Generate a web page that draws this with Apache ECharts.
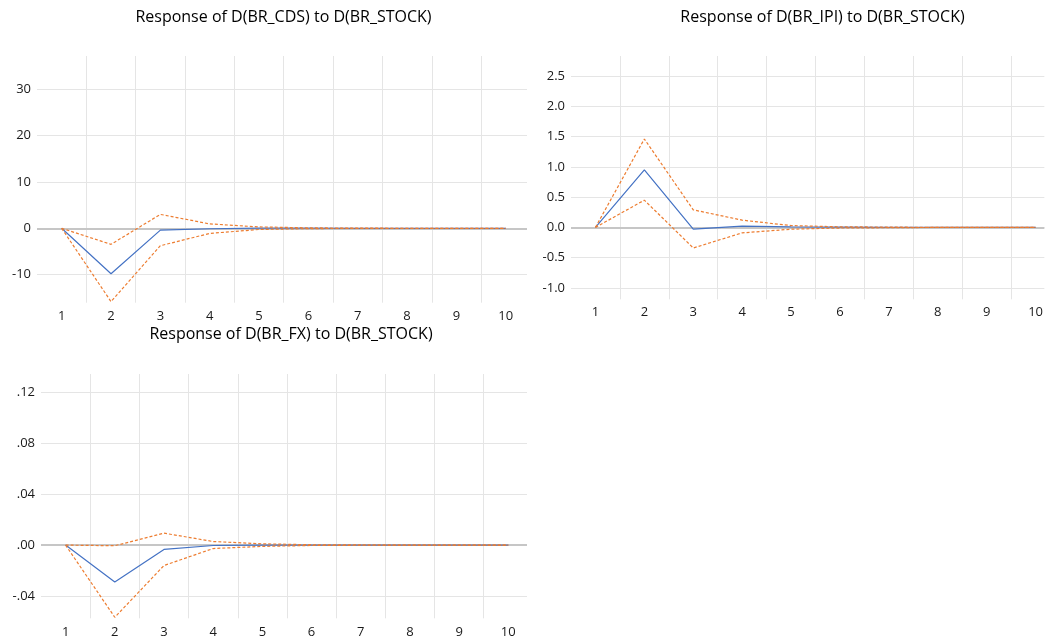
<!DOCTYPE html>
<html>
<head>
<meta charset="utf-8">
<script src="https://cdn.jsdelivr.net/npm/echarts@6/dist/echarts.min.js"></script>
<style>
html,body{margin:0;padding:0;background:#fff;}
#chart{width:1046px;height:641px;}
</style>
</head>
<body>
<div id="chart"></div>
<script>
// ---- data ----
const periods = [1, 2, 3, 4, 5, 6, 7, 8, 9, 10];
const titles = [
  'Response of D(BR_CDS) to D(BR_STOCK)',
  'Response of D(BR_IPI) to D(BR_STOCK)',
  'Response of D(BR_FX) to D(BR_STOCK)'
];
const cdsResp  = [0, -9.8, -0.4, -0.1, 0.05, 0.02, 0, 0, 0, 0];
const cdsUpper = [0, -3.45, 3.0, 0.95, 0.3, 0.1, 0.03, 0.01, 0, 0];
const cdsLower = [0, -15.8, -3.75, -1.1, -0.25, -0.06, -0.02, -0.01, 0, 0];

const ipiResp  = [0, 0.95, -0.03, 0.02, 0.01, 0.005, 0, 0, 0, 0];
const ipiUpper = [0, 1.46, 0.29, 0.12, 0.03, 0.01, 0.005, 0, 0, 0];
const ipiLower = [0, 0.45, -0.34, -0.09, -0.03, -0.01, -0.005, 0, 0, 0];

const fxResp  = [0, -0.029, -0.0034, -0.0003, 0, 0, 0, 0, 0, 0];
const fxUpper = [0, -0.0005, 0.0094, 0.0028, 0.001, 0.0003, 0.0001, 0, 0, 0];
const fxLower = [0, -0.0567, -0.016, -0.0027, -0.001, -0.0003, -0.0001, 0, 0, 0];

const cdsTicks = [-10, 0, 10, 20, 30];
const ipiTicks = [-1.0, -0.5, 0.0, 0.5, 1.0, 1.5, 2.0, 2.5];
const fxTicks  = [-0.04, 0.00, 0.04, 0.08, 0.12];
const xGridTicks = [1.5, 2.5, 3.5, 4.5, 5.5, 6.5, 7.5, 8.5, 9.5];

// ---- styling ----
const FONT = 'Open Sans';
const BLUE = '#4472c4';
const ORANGE = '#ed7d31';
const GRID_COLOR = '#e5e5e5';
const ZERO_COLOR = '#c6c6c6';

function pairs(arr) { return periods.map((p, i) => [p, arr[i]]); }

function fmtFx(v) {
  const s = Math.abs(v).toFixed(2).replace(/^0/, '');
  return (v < -1e-9 ? '-' : '') + s;
}

const grids = [
  {left: 37, top: 56, width: 490, height: 246.7},
  {left: 571, top: 56, width: 475, height: 243.3},
  {left: 41, top: 374, width: 486, height: 244.3}
];
const xMax = [10.43, 10.18, 10.38];
const yRanges = [
  {min: -16.03, max: 37.13, ticks: cdsTicks, fmt: v => String(Math.round(v))},
  {min: -1.187, max: 2.83, ticks: ipiTicks, fmt: v => v.toFixed(1)},
  {min: -0.0575, max: 0.1344, ticks: fxTicks, fmt: fmtFx}
];
const dataSets = [
  [cdsResp, cdsUpper, cdsLower],
  [ipiResp, ipiUpper, ipiLower],
  [fxResp, fxUpper, fxLower]
];
const labelMargins = [7, 6, 7];

const xAxis = grids.map((g, i) => ({
  type: 'value', gridIndex: i, min: 0.5, max: xMax[i],
  axisLine: {show: false},
  axisTick: {show: false, customValues: xGridTicks},
  axisLabel: {customValues: periods, color: '#1a1a1a', fontFamily: FONT, fontSize: 13, margin: labelMargins[i]},
  splitLine: {show: true, lineStyle: {color: GRID_COLOR, width: 1}}
}));
const yAxis = yRanges.map((r, i) => ({
  type: 'value', gridIndex: i, min: r.min, max: r.max,
  axisLine: {show: false},
  axisTick: {show: false, customValues: r.ticks},
  axisLabel: {customValues: r.ticks, formatter: r.fmt, color: '#1a1a1a', fontFamily: FONT, fontSize: 13, margin: 6},
  splitLine: {show: true, lineStyle: {color: GRID_COLOR, width: 1}}
}));

const series = [];
dataSets.forEach((ds, i) => {
  series.push({
    type: 'line', xAxisIndex: i, yAxisIndex: i, data: [], silent: true, z: 1,
    markLine: {
      silent: true, symbol: 'none', label: {show: false}, animation: false, z: 1,
      lineStyle: {color: ZERO_COLOR, width: 2, type: 'solid'},
      data: [{yAxis: 0}]
    }
  });
  series.push({
    type: 'line', xAxisIndex: i, yAxisIndex: i, data: pairs(ds[0]), z: 3,
    symbol: 'none', lineStyle: {color: BLUE, width: 1.2}
  });
  series.push({
    type: 'line', xAxisIndex: i, yAxisIndex: i, data: pairs(ds[1]), z: 4,
    symbol: 'none', lineStyle: {color: ORANGE, width: 1.2, type: [3, 2]}
  });
  series.push({
    type: 'line', xAxisIndex: i, yAxisIndex: i, data: pairs(ds[2]), z: 4,
    symbol: 'none', lineStyle: {color: ORANGE, width: 1.2, type: [3, 2]}
  });
});

const titleCenters = [[283.5, 9], [822.5, 9], [291, 326]];
const title = titles.map((t, i) => ({
  text: t, left: titleCenters[i][0], top: titleCenters[i][1], textAlign: 'center', padding: 0,
  textStyle: {fontFamily: FONT, fontSize: 16, fontWeight: 'normal', color: '#000'}
}));

const chart = echarts.init(document.getElementById('chart'), null, {renderer: 'canvas'});
chart.setOption({
  animation: false,
  backgroundColor: '#fff',
  title: title,
  grid: grids,
  xAxis: xAxis,
  yAxis: yAxis,
  series: series
});
</script>
</body>
</html>
